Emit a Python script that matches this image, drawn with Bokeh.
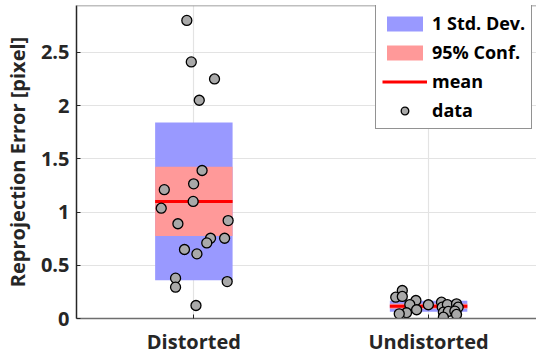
from bokeh.plotting import figure
from bokeh.models import (Range1d, FixedTicker, NumeralTickFormatter, Span,
                          Legend, LegendItem, ColumnDataSource)
from bokeh.embed import file_html
from bokeh.resources import INLINE

# Groups and their summary statistics (mean, 1 std. dev., 95% confidence half-width)
groups = ["Distorted", "Undistorted"]
group_pos = [1, 2]
mean_err = [1.10, 0.115]
sd_err = [0.74, 0.052]
ci_err = [0.325, 0.023]

# Individual reprojection errors (x includes horizontal jitter around the group position)
dist_x = [0.970, 0.989, 1.088, 1.023, 1.035, 0.999, 0.874, 0.997, 0.861, 1.146,
          0.932, 1.071, 1.131, 1.055, 0.960, 1.013, 0.922, 0.922, 1.142, 1.009]
dist_y = [2.80, 2.41, 2.25, 2.05, 1.39, 1.265, 1.21, 1.10, 1.036, 0.92,
          0.89, 0.754, 0.754, 0.71, 0.648, 0.607, 0.379, 0.294, 0.347, 0.122]
undist_x = [1.888, 1.860, 1.888, 1.946, 1.920, 1.949, 1.906, 1.875, 1.999, 2.055,
            2.058, 2.080, 2.119, 2.126, 2.063, 2.084, 2.112, 2.119, 2.063]
undist_y = [0.263, 0.200, 0.207, 0.169, 0.131, 0.082, 0.054, 0.044, 0.129, 0.153,
            0.106, 0.131, 0.138, 0.106, 0.059, 0.066, 0.069, 0.038, 0.012]

y_ticks = [0, 0.5, 1, 1.5, 2, 2.5]

HALF_W = 0.165
FONT = "Open Sans"
TXT = "#262626"

stats = ColumnDataSource(dict(
    left=[g - HALF_W for g in group_pos],
    right=[g + HALF_W for g in group_pos],
    mean=mean_err,
    sd_lo=[m - s for m, s in zip(mean_err, sd_err)],
    sd_hi=[m + s for m, s in zip(mean_err, sd_err)],
    ci_lo=[m - c for m, c in zip(mean_err, ci_err)],
    ci_hi=[m + c for m, c in zip(mean_err, ci_err)],
))
pts = ColumnDataSource(dict(x=dist_x + undist_x, y=dist_y + undist_y))

p = figure(frame_width=461, frame_height=313,
           x_range=Range1d(0.5, 2.464), y_range=Range1d(0, 2.94),
           output_backend="svg", toolbar_location=None,
           min_border_left=75, min_border_right=0,
           min_border_top=5, min_border_bottom=36)
p.outline_line_color = None
p.background_fill_color = "white"
p.border_fill_color = "white"

sd_r = p.quad(left="left", right="right", bottom="sd_lo", top="sd_hi",
              source=stats, fill_color="#9999ff", line_color=None)
ci_r = p.quad(left="left", right="right", bottom="ci_lo", top="ci_hi",
              source=stats, fill_color="#ff9999", line_color=None)
mean_r = p.segment(x0="left", x1="right", y0="mean", y1="mean",
                   source=stats, line_color="#ff0000", line_width=3)
pt_r = p.scatter("x", "y", source=pts, size=10, fill_color="#a9a9a9",
                 line_color="black", line_width=1.3)

# top border of the axes box
p.add_layout(Span(location=2.94, dimension="width", line_color="#808080",
                  line_width=1.5))

# x axis: group names at integer positions
p.xaxis.ticker = FixedTicker(ticks=group_pos)
p.xaxis.major_label_overrides = {g: n for g, n in zip(group_pos, groups)}
p.xaxis.axis_line_color = "#6e6e6e"
p.xaxis.axis_line_width = 1.5
p.xaxis.major_tick_in = 4
p.xaxis.major_tick_out = 0
p.xaxis.major_tick_line_color = TXT
p.xaxis.minor_tick_line_color = None
p.xaxis.major_label_standoff = 9

# y axis
p.yaxis.ticker = FixedTicker(ticks=y_ticks)
p.yaxis.formatter = NumeralTickFormatter(format="0.[0]")
p.yaxis.axis_line_color = TXT
p.yaxis.axis_line_width = 1.5
p.yaxis.major_tick_in = 4
p.yaxis.major_tick_out = 0
p.yaxis.major_tick_line_color = TXT
p.yaxis.minor_tick_line_color = None
p.yaxis.major_label_standoff = 7
p.yaxis.axis_label = "Reprojection Error [pixel]"
p.yaxis.axis_label_standoff = 7

for ax in (p.xaxis, p.yaxis):
    ax.major_label_text_font = FONT
    ax.major_label_text_font_size = "20px"
    ax.major_label_text_font_style = "bold"
    ax.major_label_text_color = TXT
    ax.axis_label_text_font = FONT
    ax.axis_label_text_font_size = "20px"
    ax.axis_label_text_font_style = "bold"
    ax.axis_label_text_color = TXT

p.xgrid.grid_line_color = "#e3e3e3"
p.ygrid.grid_line_color = "#e3e3e3"
p.xgrid.grid_line_width = 1.2
p.ygrid.grid_line_width = 1.2

legend = Legend(items=[
    LegendItem(label="1 Std. Dev.", renderers=[sd_r]),
    LegendItem(label="95% Conf.", renderers=[ci_r]),
    LegendItem(label="mean", renderers=[mean_r]),
    LegendItem(label="data", renderers=[pt_r]),
], location=(299, 189))
legend.glyph_width = 45
legend.glyph_height = 19
legend.label_height = 21
legend.spacing = 5
legend.padding = 6
legend.margin = 0
legend.label_standoff = 5
legend.border_line_color = "#262626"
legend.border_line_width = 1
legend.background_fill_color = "white"
legend.background_fill_alpha = 1
legend.label_text_font = FONT
legend.label_text_font_size = "18px"
legend.label_text_font_style = "bold"
legend.label_text_color = "black"
p.add_layout(legend)

open("out.html", "w").write(file_html(p, INLINE))
